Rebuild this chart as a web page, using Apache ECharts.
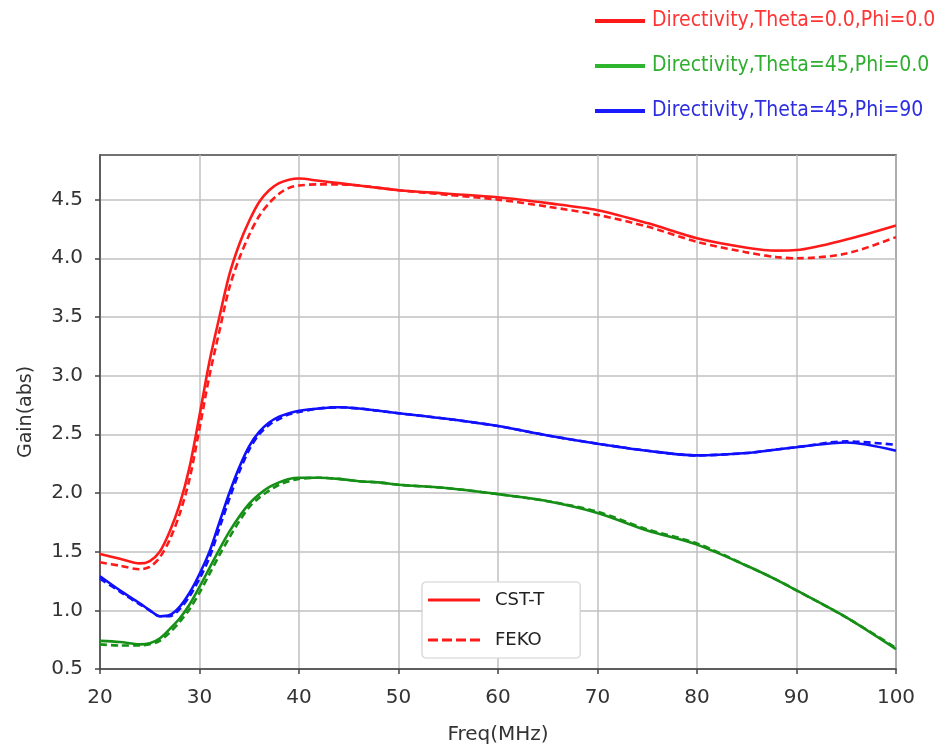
<!DOCTYPE html>
<html>
<head>
<meta charset="utf-8">
<script src="https://cdn.jsdelivr.net/npm/echarts@6/dist/echarts.min.js"></script>
<style>html,body{margin:0;padding:0;background:#fff}#c{width:934px;height:747px}</style>
</head>
<body>
<div id="c"></div>
<script>
var freq = [20,22,24,25,26,27,28,29,30,31,32,33,34,35,36,37,38,39,40,42,44,46,48,50,55,60,65,70,75,80,85,88,90,95,100];

var redCST   = [1.48,1.44,1.40,1.42,1.50,1.67,1.90,2.22,2.66,3.12,3.50,3.86,4.12,4.32,4.48,4.58,4.64,4.67,4.68,4.66,4.64,4.62,4.60,4.58,4.55,4.52,4.47,4.41,4.30,4.17,4.09,4.065,4.07,4.16,4.28];
var redFEKO  = [1.41,1.38,1.35,1.37,1.45,1.60,1.82,2.12,2.55,3.00,3.38,3.75,4.00,4.20,4.36,4.47,4.55,4.60,4.62,4.63,4.63,4.62,4.60,4.58,4.54,4.50,4.44,4.37,4.27,4.14,4.05,4.01,4.00,4.04,4.18];
var blueCST  = [1.29,1.17,1.06,1.00,0.95,0.96,1.03,1.15,1.31,1.50,1.75,2.00,2.22,2.40,2.52,2.60,2.65,2.68,2.70,2.72,2.73,2.72,2.70,2.68,2.63,2.57,2.49,2.42,2.36,2.32,2.34,2.37,2.39,2.43,2.36];
var blueFEKO = [1.27,1.16,1.05,1.00,0.95,0.95,1.01,1.12,1.27,1.45,1.70,1.95,2.18,2.37,2.50,2.58,2.63,2.67,2.69,2.72,2.73,2.72,2.70,2.68,2.63,2.57,2.49,2.42,2.36,2.32,2.34,2.37,2.39,2.44,2.41];
var greenCST = [0.74,0.73,0.71,0.72,0.76,0.84,0.93,1.05,1.20,1.36,1.52,1.67,1.80,1.91,1.99,2.05,2.09,2.12,2.13,2.13,2.12,2.10,2.09,2.07,2.04,1.99,1.93,1.83,1.68,1.56,1.38,1.26,1.17,0.94,0.67];
var greenFEKO= [0.71,0.70,0.70,0.71,0.74,0.81,0.90,1.01,1.15,1.31,1.47,1.62,1.76,1.88,1.96,2.02,2.07,2.10,2.12,2.13,2.12,2.10,2.09,2.07,2.04,1.99,1.93,1.84,1.69,1.57,1.38,1.26,1.17,0.94,0.68];

var xTicks = [20,30,40,50,60,70,80,90,100];
var yTicks = [0.5,1.0,1.5,2.0,2.5,3.0,3.5,4.0,4.5];

var topLegendNames = ['Directivity,Theta=0.0,Phi=0.0','Directivity,Theta=45,Phi=0.0','Directivity,Theta=45,Phi=90'];
var innerLegendNames = ['CST-T','FEKO'];

function pairs(ys){ return freq.map(function(f,i){ return [f, ys[i]]; }); }

var RED = '#ff1a1a', GREEN = '#158f15', BLUE = '#1010ff';
var DASH = [7,4];
var DASH_ICON = 'path://M0,0h10v3h-10z M14,0h10v3h-10z M28,0h10v3h-10z M42,0h10v3h-10z';

function mk(name, ys, color, dashed){
  return {
    name: name, type: 'line', data: pairs(ys), smooth: 0.3, symbol: 'none',
    lineStyle: {color: color, width: 2.6, type: dashed ? DASH : 'solid'},
    itemStyle: {color: color}, z: dashed ? 3 : 2
  };
}
function dummy(name, color){
  return {name: name, type: 'line', data: [], symbol: 'none', lineStyle: {color: color, width: 3.5}, itemStyle: {color: color}};
}

var chart = echarts.init(document.getElementById('c'), null, {renderer: 'canvas'});
chart.setOption({
  animation: false,
  backgroundColor: '#fff',
  grid: {left: 100, right: 38, top: 155, bottom: 78, show: true, borderColor: '#444', borderWidth: 1.5, containLabel: false, outerBoundsMode: 'none'},
  xAxis: {
    type: 'value', min: 20, max: 100, interval: 10,
    name: 'Freq(MHz)', nameLocation: 'middle', nameGap: 56,
    nameTextStyle: {fontSize: 20, color: '#333', fontFamily: 'DejaVu Sans'},
    axisLine: {show: true, lineStyle: {color: '#444', width: 1.5}},
    axisTick: {show: true, length: 5, lineStyle: {color: '#444', width: 1.5}},
    axisLabel: {fontSize: 20, color: '#333', fontFamily: 'DejaVu Sans', margin: 19,
      formatter: function(v){ return xTicks.indexOf(v) >= 0 ? String(v) : ''; }},
    splitLine: {show: true, lineStyle: {color: '#c0c0c0', width: 1.5}}
  },
  yAxis: {
    type: 'value', min: 0.5, max: 4.88, interval: 0.5,
    name: 'Gain(abs)', nameLocation: 'middle', nameGap: 64,
    nameTextStyle: {fontSize: 19, color: '#333', fontFamily: 'DejaVu Sans'},
    axisLine: {show: true, lineStyle: {color: '#444', width: 1.5}},
    axisTick: {show: true, length: 5, lineStyle: {color: '#444', width: 1.5}, customValues: yTicks},
    axisLabel: {fontSize: 20, color: '#333', fontFamily: 'DejaVu Sans', margin: 17, customValues: yTicks,
      formatter: function(v){ return v.toFixed(1); }},
    splitLine: {show: true, lineStyle: {color: '#c0c0c0', width: 1.5}}
  },
  legend: [
    {
      data: [
        {name: topLegendNames[0], icon: 'rect', textStyle: {color: '#ff3535'}},
        {name: topLegendNames[1], icon: 'rect', textStyle: {color: '#2fae2f'}},
        {name: topLegendNames[2], icon: 'rect', textStyle: {color: '#2e2ee0'}}
      ],
      orient: 'vertical', left: 595, top: 8, padding: 0,
      itemWidth: 50, itemHeight: 4, itemGap: 19, symbolKeepAspect: false,
      selectedMode: false,
      textStyle: {fontSize: 21, fontFamily: 'Liberation Sans Narrow, Arial Narrow, DejaVu Sans Condensed, sans-serif', lineHeight: 26, padding: [0,0,0,2]}
    },
    {
      data: [
        {name: innerLegendNames[0], icon: 'rect'},
        {name: innerLegendNames[1], icon: DASH_ICON}
      ],
      orient: 'vertical', left: 422, top: 582,
      padding: [8, 36, 8, 6], itemWidth: 52, itemHeight: 3, itemGap: 20, symbolKeepAspect: false,
      backgroundColor: '#fff', borderColor: '#d0d0d0', borderWidth: 1.2, borderRadius: 4,
      selectedMode: false,
      textStyle: {fontSize: 18, color: '#222', fontFamily: 'DejaVu Sans', lineHeight: 20, padding: [0,0,0,10]}
    }
  ],
  series: [
    mk('CST-T', redCST, RED, false),
    mk('FEKO', redFEKO, RED, true),
    mk('green CST-T', greenCST, GREEN, false),
    mk('green FEKO', greenFEKO, GREEN, true),
    mk('blue CST-T', blueCST, BLUE, false),
    mk('blue FEKO', blueFEKO, BLUE, true),
    dummy(topLegendNames[0], '#ff1a1a'),
    dummy(topLegendNames[1], '#2db52d'),
    dummy(topLegendNames[2], '#1a1aff')
  ]
});
</script>
</body>
</html>
